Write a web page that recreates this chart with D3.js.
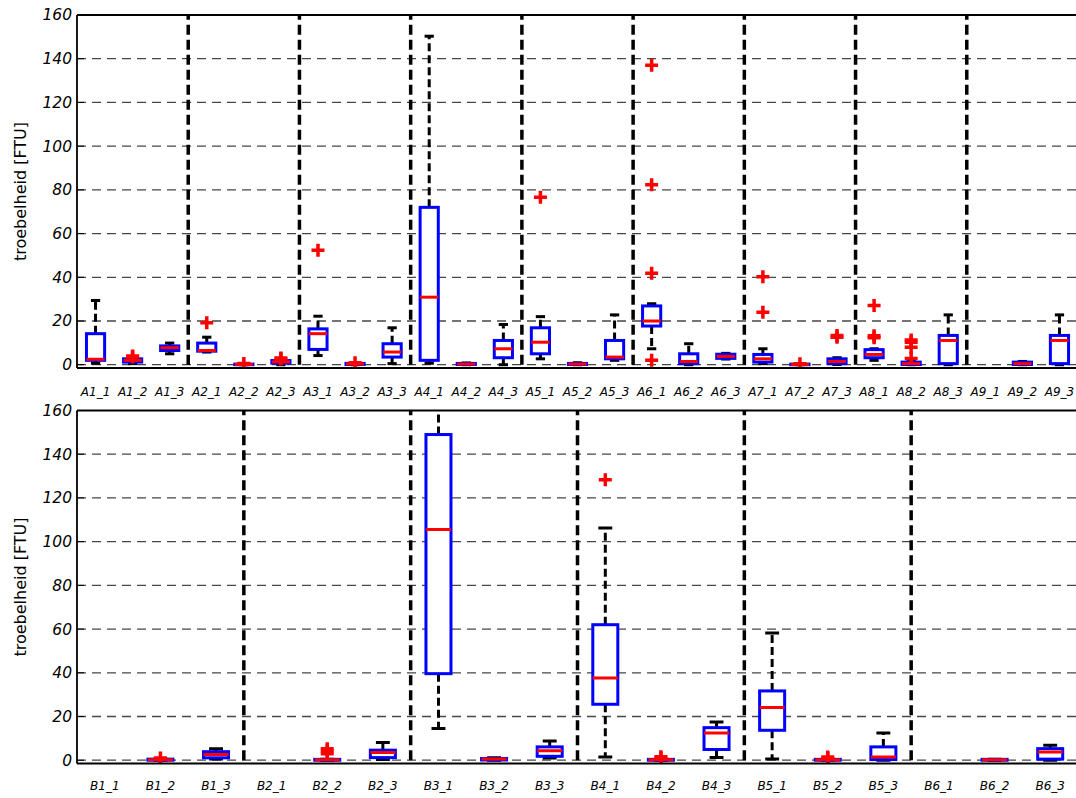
<!DOCTYPE html>
<html>
<head>
<meta charset="utf-8">
<script src="https://cdn.jsdelivr.net/npm/d3@7"></script>
<style>
  html, body { margin: 0; padding: 0; background: #fff; }
  svg { display: block; }
  text { font-family: "DejaVu Sans", sans-serif; fill: #000; }
</style>
</head>
<body>
<svg id="chart" width="1076" height="798"></svg>
<script>
// Turbidity (troebelheid) per sampling point, panel A
const topCategories = ["A1_1","A1_2","A1_3","A2_1","A2_2","A2_3","A3_1","A3_2","A3_3",
  "A4_1","A4_2","A4_3","A5_1","A5_2","A5_3","A6_1","A6_2","A6_3",
  "A7_1","A7_2","A7_3","A8_1","A8_2","A8_3","A9_1","A9_2","A9_3"];
const topLow    = [0.7, 0.5, 5.0, 5.8, 0.0, 0.0, 4.2, 0.0, 0.5, 0.7, 0.0, 0.0, 2.7, 0.0, 2.0, 7.3, 0.0, 2.6, 0.5, 0.0, 0.1, 2.0, 0.0, 0.0, null, 0.0, 0.0];
const topQ1     = [2.0, 1.2, 6.5, 6.2, 0.0, 0.7, 7.0, 0.1, 3.5, 2.0, 0.1, 3.2, 5.0, 0.1, 2.7, 17.7, 0.5, 2.9, 1.2, 0.0, 0.5, 3.2, 0.1, 0.5, null, 0.1, 0.5];
const topMedian = [2.5, 2.0, 7.8, 6.5, 0.1, 1.3, 14.2, 0.3, 5.8, 30.9, 0.3, 7.3, 10.3, 0.3, 3.5, 20.0, 1.5, 3.8, 2.7, 0.1, 1.5, 4.7, 0.5, 11.1, null, 0.5, 11.1];
const topQ3     = [14.2, 2.7, 8.6, 9.9, 0.3, 1.9, 16.4, 0.6, 9.6, 72.0, 0.6, 11.1, 16.9, 0.6, 11.1, 26.9, 5.0, 4.8, 4.7, 0.3, 2.7, 6.9, 1.2, 13.4, null, 1.2, 13.4];
const topHigh   = [29.4, 2.9, 9.9, 12.6, 0.4, 2.1, 22.2, 0.7, 16.9, 150.3, 0.8, 18.4, 22.0, 0.9, 22.8, 27.9, 9.6, 5.2, 7.3, 0.4, 3.2, 7.3, 1.8, 22.8, null, 1.5, 22.8];
const topOutliers = [[], [3.5, 4.0], [], [19.2], [0.6], [2.6, 3.1], [52.4], [0.9], [],
  [], [], [], [76.6], [], [], [137.0, 82.3, 41.9, 2.0], [], [],
  [40.3, 24.0], [0.5], [12.6, 13.4], [27.1, 12.3, 13.2], [11.3, 10.3, 8.0, 2.8], [], [], [], []];

// Panel B
const bottomCategories = ["B1_1","B1_2","B1_3","B2_1","B2_2","B2_3","B3_1","B3_2","B3_3",
  "B4_1","B4_2","B4_3","B5_1","B5_2","B5_3","B6_1","B6_2","B6_3"];
const bottomLow    = [null, 0.0, 0.6, null, 0.0, 0.3, 14.5, 0.0, 1.0, 1.5, 0.0, 1.2, 0.6, 0.0, 0.0, null, 0.0, 0.0];
const bottomQ1     = [null, 0.0, 1.1, null, 0.0, 1.2, 39.6, 0.1, 1.8, 25.6, 0.0, 4.9, 13.7, 0.0, 0.3, null, 0.0, 0.5];
const bottomMedian = [null, 0.2, 2.6, null, 0.2, 3.5, 105.5, 0.6, 4.3, 37.6, 0.2, 12.5, 24.1, 0.2, 1.5, null, 0.2, 3.8];
const bottomQ3     = [null, 0.5, 3.9, null, 0.4, 4.6, 149.0, 0.8, 6.1, 62.0, 0.4, 14.9, 31.7, 0.4, 6.1, null, 0.4, 5.3];
const bottomHigh   = [null, 0.6, 5.3, null, 0.5, 8.1, 168.0, 1.1, 8.8, 106.2, 0.5, 17.5, 58.2, 0.5, 12.5, null, 0.5, 6.9];
const bottomOutliers = [[], [1.0], [], [], [3.0, 4.2, 5.2], [], [], [], [],
  [128.3], [0.9, 1.6], [], [], [0.8, 1.5], [], [], [], []];

const yTicks = [0, 20, 40, 60, 80, 100, 120, 140, 160];
const yLabel = "troebelheid [FTU]";

const svg = d3.select("#chart");
const plotLeft = 77, plotRight = 1078;

function buildRows(cats, lo, q1, med, q3, hi, outs) {
  return cats.map((c, i) => ({
    cat: c, lo: lo[i], q1: q1[i], med: med[i], q3: q3[i], hi: hi[i], out: outs[i]
  }));
}

function drawPanel(cfg) {
  const g = svg.append("g");
  const x = d3.scaleBand().domain(cfg.cats).range([plotLeft, plotRight]).padding(0);
  const y = d3.scaleLinear().domain([-1.5, 160]).range([cfg.bottom, cfg.top]);
  const s = x.bandwidth();
  const bw = s * cfg.boxFrac;
  const cw = s * 0.25;

  const clipId = "clip-" + cfg.id;
  svg.append("clipPath").attr("id", clipId)
    .append("rect").attr("x", plotLeft).attr("y", cfg.top)
    .attr("width", plotRight - plotLeft).attr("height", cfg.bottom - cfg.top);

  // dashed grid lines
  g.append("g").selectAll("line").data(yTicks.filter(t => t < 160)).join("line")
    .attr("x1", plotLeft).attr("x2", plotRight)
    .attr("y1", d => y(d)).attr("y2", d => y(d))
    .attr("stroke", "#474747").attr("stroke-width", 1.3)
    .attr("stroke-dasharray", "9,6");

  // small inward ticks on the left edge
  g.append("g").selectAll("line").data(yTicks).join("line")
    .attr("x1", plotLeft).attr("x2", plotLeft + 7)
    .attr("y1", d => y(d)).attr("y2", d => y(d))
    .attr("stroke", "#000").attr("stroke-width", 1);

  // group separators every three sampling points
  const seps = cfg.cats.filter((c, i) => i > 0 && i % 3 === 0);
  g.append("g").selectAll("line").data(seps).join("line")
    .attr("x1", d => x(d)).attr("x2", d => x(d))
    .attr("y1", y(0)).attr("y2", y(160))
    .attr("stroke", "#000").attr("stroke-width", 3.5)
    .attr("stroke-dasharray", "10,5");

  const rows = cfg.rows.filter(r => r.med !== null);
  const boxes = g.append("g").attr("clip-path", `url(#${clipId})`)
    .selectAll("g").data(rows).join("g")
    .attr("transform", d => `translate(${x(d.cat) + s / 2},0)`);

  // whiskers
  boxes.append("line").attr("y1", d => y(d.q3)).attr("y2", d => y(d.hi))
    .attr("stroke", "#000").attr("stroke-width", 3).attr("stroke-dasharray", "8,4");
  boxes.append("line").attr("y1", d => y(d.q1)).attr("y2", d => y(d.lo))
    .attr("stroke", "#000").attr("stroke-width", 3).attr("stroke-dasharray", "8,4");
  // whisker caps
  boxes.append("line").attr("x1", -cw / 2).attr("x2", cw / 2)
    .attr("y1", d => y(d.hi)).attr("y2", d => y(d.hi))
    .attr("stroke", "#000").attr("stroke-width", 3);
  boxes.append("line").attr("x1", -cw / 2).attr("x2", cw / 2)
    .attr("y1", d => y(d.lo)).attr("y2", d => y(d.lo))
    .attr("stroke", "#000").attr("stroke-width", 3);
  // interquartile box
  boxes.append("rect").attr("x", -bw / 2).attr("width", bw)
    .attr("y", d => y(d.q3)).attr("height", d => Math.max(0, y(d.q1) - y(d.q3)))
    .attr("fill", "#fff").attr("stroke", "#0000ff").attr("stroke-width", 3);
  // median
  boxes.append("line").attr("x1", -bw / 2).attr("x2", bw / 2)
    .attr("y1", d => y(d.med)).attr("y2", d => y(d.med))
    .attr("stroke", "#ff0000").attr("stroke-width", 3);
  // outliers
  boxes.selectAll("path").data(d => d.out).join("path")
    .attr("d", v => `M-6.5,${y(v)}H6.5M0,${y(v) - 6.5}V${y(v) + 6.5}`)
    .attr("stroke", "#ff0000").attr("stroke-width", 3.5).attr("fill", "none");

  // frame
  g.append("line").attr("x1", plotLeft).attr("x2", plotRight).attr("y1", cfg.top).attr("y2", cfg.top)
    .attr("stroke", "#000").attr("stroke-width", 1.8);
  g.append("line").attr("x1", plotLeft).attr("x2", plotRight).attr("y1", cfg.bottom).attr("y2", cfg.bottom)
    .attr("stroke", "#000").attr("stroke-width", 1.8);
  g.append("line").attr("x1", plotLeft).attr("x2", plotLeft).attr("y1", cfg.top).attr("y2", cfg.bottom)
    .attr("stroke", "#000").attr("stroke-width", 1.8);

  // y axis labels
  const ya = g.append("g").attr("transform", `translate(${plotLeft},0)`)
    .call(d3.axisLeft(y).tickValues(yTicks).tickSize(0).tickPadding(5));
  ya.select(".domain").remove();
  ya.selectAll("text").attr("font-size", 15.5).attr("font-style", "italic")
    .attr("font-family", "DejaVu Sans").attr("fill", "#000");

  // x axis labels
  const xa = g.append("g").attr("transform", `translate(0,${cfg.bottom})`)
    .call(d3.axisBottom(x).tickSize(0).tickPadding(cfg.xPad));
  xa.select(".domain").remove();
  xa.selectAll("text").attr("font-size", 12).attr("font-style", "italic")
    .attr("font-family", "DejaVu Sans").attr("fill", "#000");

  // y axis title
  g.append("text")
    .attr("transform", `translate(20,${(cfg.top + cfg.bottom) / 2}) rotate(-90)`)
    .attr("text-anchor", "middle").attr("dominant-baseline", "central")
    .attr("font-size", 16).text(yLabel);
}

drawPanel({
  id: "a", cats: topCategories, top: 15, bottom: 368, boxFrac: 0.49, xPad: 19,
  rows: buildRows(topCategories, topLow, topQ1, topMedian, topQ3, topHigh, topOutliers)
});
drawPanel({
  id: "b", cats: bottomCategories, top: 410.5, bottom: 763.5, boxFrac: 0.45, xPad: 18,
  rows: buildRows(bottomCategories, bottomLow, bottomQ1, bottomMedian, bottomQ3, bottomHigh, bottomOutliers)
});
</script>
</body>
</html>
